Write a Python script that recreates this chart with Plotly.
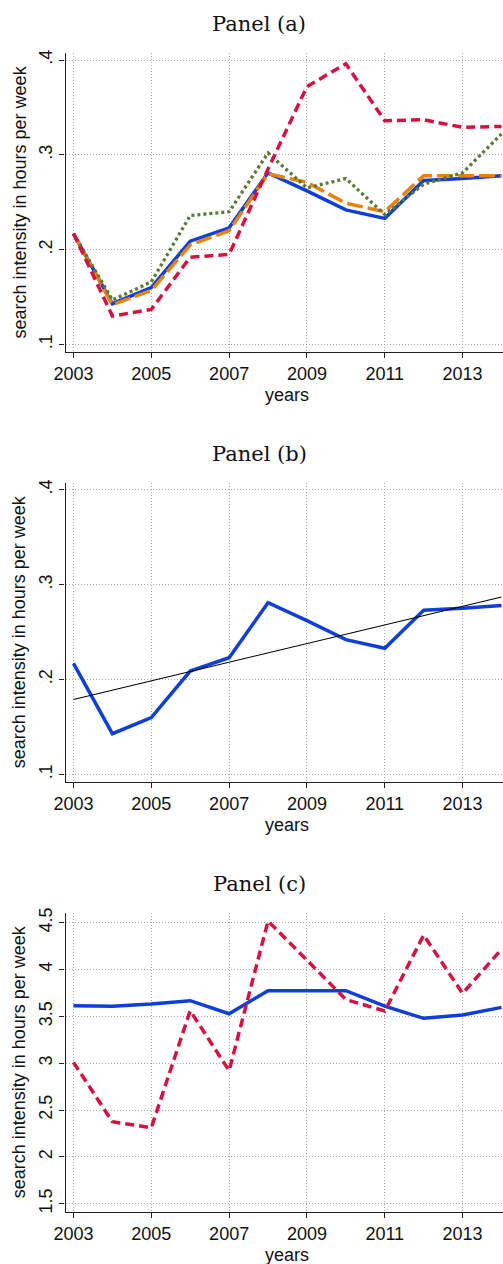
import numpy as np
import plotly.graph_objects as go

# ---- data ---------------------------------------------------------------
years = list(range(2003, 2015))

# Panel (a): four series of weekly search intensity
a_solid = [0.217, 0.143, 0.160, 0.209, 0.223, 0.281, 0.262, 0.242, 0.233, 0.273, 0.275, 0.278]
a_longdash = [0.217, 0.142, 0.157, 0.205, 0.220, 0.280, 0.271, 0.249, 0.240, 0.278, 0.278, 0.278]
a_dotted = [0.217, 0.147, 0.166, 0.236, 0.240, 0.302, 0.265, 0.275, 0.237, 0.269, 0.281, 0.322]
a_dashed = [0.217, 0.130, 0.137, 0.192, 0.195, 0.285, 0.372, 0.396, 0.336, 0.337, 0.329, 0.330]

# Panel (b): the solid series with its linear trend
b_series = a_solid

# Panel (c): two series on a different scale
c_solid = [3.614, 3.607, 3.632, 3.667, 3.528, 3.774, 3.774, 3.774, 3.610, 3.479, 3.514, 3.596]
c_dashed = [3.009, 2.375, 2.311, 3.560, 2.920, 4.518, 4.100, 3.680, 3.557, 4.368, 3.745, 4.215]

x_ticks = [2003, 2005, 2007, 2009, 2011, 2013]
ab_yticks = [0.1, 0.2, 0.3, 0.4]
ab_ylabels = [".1", ".2", ".3", ".4"]
c_yticks = [1.5, 2, 2.5, 3, 3.5, 4, 4.5]
c_ylabels = ["1.5", "2", "2.5", "3", "3.5", "4", "4.5"]

# ---- styling --------------------------------------------------------------
W, H = 503, 1264
BLUE = "#0f3fd8"
RED = "#d8103f"
ORANGE = "#e8820c"
GREEN = "#5a7a36"
SANS = "Liberation Sans, Arial, sans-serif"
SERIF = "DejaVu Serif, serif"

# panel frames in pixels (top, bottom) and shared x extent
panels = [(53.0, 352.0), (482.7, 782.0), (912.7, 1212.0)]
titles = ["Panel (a)", "Panel (b)", "Panel (c)"]
x_left_px = 65.5
x_range = [2003 - 8 / 39, 2014 + 1.5 / 39]

fig = go.Figure()


def ax_name(i, kind):
    return f"{kind}{'' if i == 0 else i + 1}"


# trend for panel (b)
slope, intercept = np.polyfit(years, b_series, 1)
trend_x = [years[0], years[-1]]
trend_y = [intercept + slope * x for x in trend_x]

series = [
    [
        (a_solid, BLUE, 3.5, "solid"),
        (a_longdash, ORANGE, 3.5, "16px,5px"),
        (a_dotted, GREEN, 3.3, "3px,3px"),
        (a_dashed, RED, 3.5, "9px,5px"),
    ],
    [
        (b_series, BLUE, 3.5, "solid"),
    ],
    [
        (c_solid, BLUE, 3.5, "solid"),
        (c_dashed, RED, 3.5, "9px,5px"),
    ],
]

for i, group in enumerate(series):
    xa, ya = ax_name(i, "x"), ax_name(i, "y")
    for vals, col, w, dash in group:
        fig.add_trace(go.Scatter(
            x=years, y=vals, mode="lines", xaxis=xa, yaxis=ya,
            line=dict(color=col, width=w, dash=dash),
            showlegend=False, hoverinfo="skip",
        ))
    if i == 1:
        fig.add_trace(go.Scatter(
            x=trend_x, y=trend_y, mode="lines", xaxis=xa, yaxis=ya,
            line=dict(color="black", width=1.1),
            showlegend=False, hoverinfo="skip",
        ))

layout = dict(
    width=W, height=H,
    margin=dict(l=0, r=0, t=0, b=0),
    paper_bgcolor="white", plot_bgcolor="white",
    showlegend=False,
    annotations=[],
)

axis_common = dict(
    showline=True, linecolor="#222222", linewidth=1.3,
    ticks="outside", ticklen=5, tickwidth=1.2, tickcolor="#222222",
    showgrid=True, gridcolor="#a8a8a8", griddash="1px,2px", gridwidth=1,
    zeroline=False, automargin=False,
    tickfont=dict(family=SANS, size=18, color="#111111"),
)

for i, (top, bot) in enumerate(panels):
    dom_y = [1 - bot / H, 1 - top / H]
    key = "" if i == 0 else str(i + 1)
    layout["xaxis" + key] = dict(
        axis_common,
        domain=[x_left_px / W, 1], range=x_range,
        tickmode="array", tickvals=x_ticks, ticktext=[str(t) for t in x_ticks],
        anchor=ax_name(i, "y"),
    )
    if i < 2:
        yr = [0.1 - (352 - 344.5) / 948, 0.4 + (60 - 53) / 948]
        tv, tt = ab_yticks, ab_ylabels
    else:
        yr = [4.5 - (1056 - 188) / 281, 4.5 + (188 - 158) / 281]
        tv, tt = c_yticks, c_ylabels
    layout["yaxis" + key] = dict(
        axis_common,
        domain=dom_y, range=yr,
        tickmode="array", tickvals=tv, ticktext=tt, tickangle=-90,
        anchor=ax_name(i, "x"),
    )
    # panel title
    layout["annotations"].append(dict(
        text=titles[i], xref="paper", yref="paper",
        x=259 / W, y=1 - (top - 29) / H, xanchor="center", yanchor="middle",
        showarrow=False, font=dict(family=SERIF, size=21, color="#111111"),
    ))
    # x-axis title
    layout["annotations"].append(dict(
        text="years", xref="paper", yref="paper",
        x=287 / W, y=1 - (bot + 43) / H, xanchor="center", yanchor="middle",
        showarrow=False, font=dict(family=SANS, size=18, color="#111111"),
    ))
    # y-axis title
    layout["annotations"].append(dict(
        text="search intensity in hours per week", xref="paper", yref="paper",
        x=19 / W, y=1 - ((top + bot) / 2) / H, xanchor="center", yanchor="middle",
        textangle=-90, showarrow=False,
        font=dict(family=SANS, size=18, color="#111111"),
    ))

fig.update_layout(**layout)
fig.write_html("out.html")
